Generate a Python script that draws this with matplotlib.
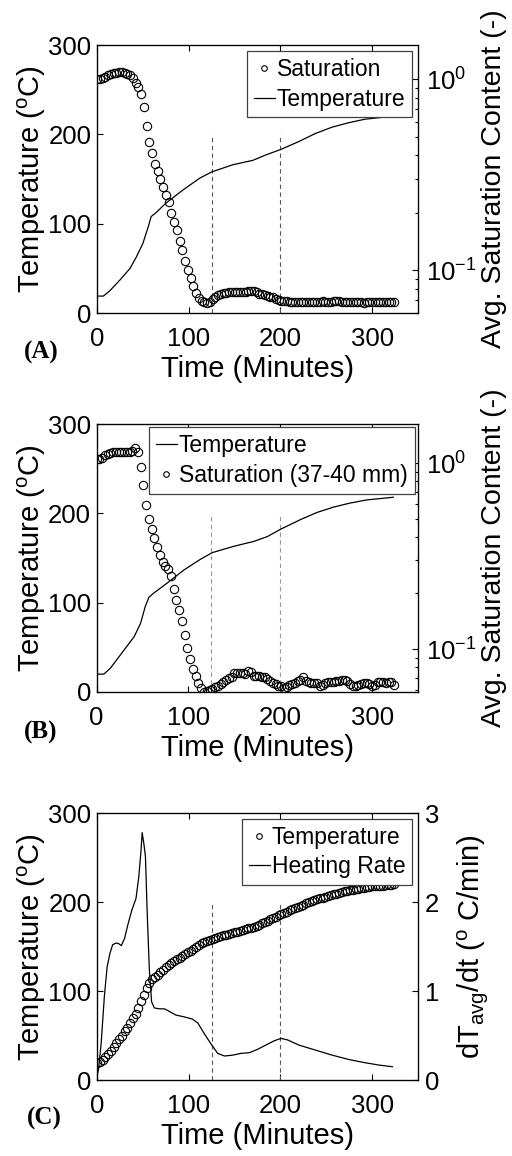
import numpy as np
import matplotlib.pyplot as plt
from matplotlib.ticker import NullFormatter

plt.rcParams['font.family'] = ['Liberation Sans', 'DejaVu Sans']
plt.rcParams['mathtext.fontset'] = 'custom'
plt.rcParams['mathtext.rm'] = 'Liberation Sans'
plt.rcParams['mathtext.it'] = 'Liberation Sans:italic'
plt.rcParams['mathtext.bf'] = 'Liberation Sans:bold'
plt.rcParams['axes.unicode_minus'] = False

# circle series are sampled every 3 minutes (0 .. 324 min)
time = np.arange(0, 325, 3)

# (A) average saturation content (-)
sat_a = [1.00, 1.00, 1.01, 1.03, 1.05, 1.06, 1.08, 1.08, 1.09, 1.09,
         1.08, 1.07, 1.05, 1.01, 0.96, 0.91, 0.84, 0.72, 0.57, 0.47,
         0.41, 0.36, 0.33, 0.30, 0.272, 0.248, 0.227, 0.200, 0.179, 0.162,
         0.143, 0.127, 0.112, 0.100, 0.0912, 0.0826, 0.0762, 0.0713, 0.0689, 0.0678,
         0.0675, 0.0684, 0.0708, 0.0726, 0.0740, 0.0752, 0.0759, 0.0764, 0.0766, 0.0767,
         0.0769, 0.0769, 0.0771, 0.0773, 0.0774, 0.0776, 0.0778, 0.0776, 0.0766, 0.0755,
         0.0748, 0.0741, 0.0735, 0.0728, 0.0721, 0.0708, 0.0698, 0.0692, 0.0689, 0.0688,
         0.0686, 0.0685, 0.0684, 0.0685, 0.0684, 0.0683, 0.0684, 0.0685, 0.0684, 0.0683,
         0.0684, 0.0686, 0.0687, 0.0686, 0.0685, 0.0686, 0.0688, 0.0689, 0.0687, 0.0684,
         0.0681, 0.0684, 0.0686, 0.0680, 0.0683, 0.0678, 0.0682, 0.0676, 0.0683, 0.0680,
         0.0686, 0.0684, 0.0683, 0.0682, 0.0683, 0.0682, 0.0681, 0.0682, 0.0680]

# (A) temperature line
time_temp_a = [0, 7, 14, 25, 36, 43, 50, 56, 59, 65, 75, 94, 112, 125, 148,
               170, 184, 200, 220, 238, 256, 274, 292, 310, 324]
temp_a = [19, 19, 25, 37, 50, 63, 78, 97, 108, 113, 123, 138, 151, 158, 166,
          171, 177, 183, 192, 201, 208, 213, 217, 219, 220]

# (B) saturation content at 37-40 mm (-)
sat_b = [1.05, 1.05, 1.07, 1.10, 1.12, 1.13, 1.14, 1.15, 1.15, 1.15,
         1.15, 1.15, 1.15, 1.16, 1.20, 1.14, 0.955, 0.759, 0.596, 0.501,
         0.442, 0.395, 0.356, 0.320, 0.295, 0.281, 0.268, 0.248, 0.211, 0.184,
         0.162, 0.141, 0.119, 0.101, 0.0891, 0.0785, 0.0719, 0.0661, 0.0617, 0.0592,
         0.0596, 0.0605, 0.0612, 0.0624, 0.0638, 0.0653, 0.0668, 0.0684, 0.0698, 0.0711,
         0.0745, 0.0748, 0.0748, 0.0745, 0.0735, 0.0759, 0.0750, 0.0721, 0.0716, 0.0714,
         0.0711, 0.0705, 0.0695, 0.0673, 0.0661, 0.0649, 0.0638, 0.0631, 0.0621, 0.0627,
         0.0640, 0.0650, 0.0659, 0.0673, 0.0686, 0.0705, 0.0676, 0.0664, 0.0656, 0.0659,
         0.0661, 0.0638, 0.0646, 0.0656, 0.0664, 0.0670, 0.0670, 0.0671, 0.0676, 0.0681,
         0.0684, 0.0673, 0.0653, 0.0635, 0.0638, 0.0643, 0.0652, 0.0656, 0.0656, 0.0653,
         0.0634, 0.0646, 0.0668, 0.0670, 0.0667, 0.0661, 0.0665, 0.0670, 0.0646]

# (B) temperature line
time_temp_b = [0, 8, 15, 26, 41, 48, 53, 57, 62, 77, 95, 113, 126, 149,
               171, 186, 200, 222, 240, 258, 276, 294, 323]
temp_b = [20, 20, 26.5, 41.5, 62, 77, 95.5, 106, 110.5, 122, 136.5, 148.5, 156, 163,
          168.5, 174, 182, 193, 201, 207, 211.5, 215, 218]

# (C) average temperature (circles)
temp_c = [19.5, 20.5, 22.5, 25.5, 29, 32.5, 37, 42, 46, 50,
          55, 59, 64.5, 69.5, 74.5, 81, 88.5, 96, 103.5, 109.5,
          113, 116, 118.5, 121, 124, 126.5, 129, 131, 133.5, 135.5,
          137.5, 139.5, 141.5, 143.5, 145.5, 147.5, 150, 151.5, 153.5, 155,
          156.5, 157.5, 158.5, 159.5, 160.5, 161.5, 162.5, 163.5, 164, 165,
          166, 166.5, 167.5, 168.5, 169.5, 170.5, 171, 172, 173.5, 174.5,
          176, 177.5, 179, 180.5, 182, 183.5, 185, 186, 187.5, 189,
          190.5, 192, 193.5, 194.5, 196, 197, 198.5, 199.5, 201, 202,
          203, 204, 205, 206, 207, 208, 208.5, 209.5, 210.5, 211,
          212, 212.5, 213, 214, 214.5, 215, 215.5, 216, 216.5, 217,
          217.5, 217.5, 218, 218.5, 218.5, 219, 219.5, 219.5, 220]

# (C) heating rate dT_avg/dt (deg C/min)
time_rate = [0, 1.5, 4.5, 8, 11, 14, 17, 21, 24, 26.5, 30, 34, 38, 42.5, 45.5,
             48, 49.2, 51, 52.8, 54.6, 57, 59.5, 62.5, 68, 73.5, 79, 86, 95,
             104, 110, 117, 124, 131.5, 139, 148, 157, 166, 175, 184, 193,
             200.5, 208, 220, 238, 256, 274, 292, 307, 322]
heat_rate = [0.05, 0.11, 0.41, 0.94, 1.27, 1.42, 1.52, 1.54, 1.53, 1.51, 1.59, 1.76,
             1.91, 2.04, 2.28, 2.58, 2.78, 2.66, 2.51, 1.91, 1.25, 0.88, 0.81, 0.80,
             0.80, 0.77, 0.73, 0.71, 0.685, 0.64, 0.52, 0.41, 0.30, 0.27, 0.28,
             0.30, 0.307, 0.345, 0.393, 0.44, 0.468, 0.45, 0.393, 0.337, 0.281,
             0.232, 0.195, 0.169, 0.15]

# dashed markers of the drying stages
stage_times = [125, 200]
stage_top = 200

FS = 18.5      # tick labels
FL = 21        # axis labels
FLEG = 16.5    # legend
circ = dict(ls='none', marker='o', mfc='none', mec='k', ms=6, mew=0.8)


def setup_left(ax, stage_color):
    ax.set_xlim(0, 350)
    ax.set_ylim(0, 300)
    ax.set_xticks([0, 100, 200, 300])
    ax.set_yticks([0, 100, 200, 300])
    ax.tick_params(direction='in', top=True, right=True, labelsize=FS,
                   length=4, width=0.8)
    ax.tick_params(axis='x', pad=10)
    ax.tick_params(axis='y', pad=4)
    for s in ax.spines.values():
        s.set_linewidth(0.9)
    ax.set_xlabel('Time (Minutes)', fontsize=FL, labelpad=3)
    ax.set_ylabel(r'Temperature ($^{\mathdefault{o}}$C)', fontsize=FL, labelpad=0)
    ax.vlines(stage_times, 0, stage_top, colors=stage_color, linestyles=(0, (4, 3)),
              linewidth=0.8)


def setup_log_right(ax2, lims):
    ax2.set_yscale('log')
    ax2.set_ylim(*lims)
    ax2.yaxis.set_minor_formatter(NullFormatter())
    ax2.tick_params(which='both', direction='in', labelsize=FS, pad=6, width=0.8)
    ax2.tick_params(which='major', length=4)
    ax2.tick_params(which='minor', length=2.5)
    ax2.set_ylabel('Avg. Saturation Content (-)', fontsize=FL - 0.5, labelpad=3)


def add_legend(ax, handles, labels, pad=0.25):
    leg = ax.legend(handles, labels, loc='upper right', fontsize=FLEG,
                    fancybox=False, framealpha=1, edgecolor='0.25',
                    borderpad=0.3, handlelength=0.9, handletextpad=0.1,
                    labelspacing=0.3, borderaxespad=pad)
    leg.get_frame().set_linewidth(0.9)
    for h in leg.legend_handles:
        h.set_markersize(4)
    return leg


fig = plt.figure(figsize=(5.12, 11.56), dpi=100)

# ---- (A)
ax = fig.add_axes([0.1895, 0.7292, 0.627, 0.2318])
setup_left(ax, '0.35')
ln, = ax.plot(time_temp_a, temp_a, 'k-', lw=0.9)
ax2 = ax.twinx()
setup_log_right(ax2, (0.0597, 1.51))
pts, = ax2.plot(time, sat_a, **circ)
add_legend(ax2, [pts, ln], ['Saturation', 'Temperature'])
fig.text(41 / 512, 1 - 352 / 1156, '(A)', family='Liberation Serif',
         weight='bold', fontsize=18, ha='center', va='center')

# ---- (B)
ax = fig.add_axes([0.1885, 0.4014, 0.628, 0.2318])
setup_left(ax, '0.6')
ln, = ax.plot(time_temp_b, temp_b, 'k-', lw=0.9)
ax2 = ax.twinx()
setup_log_right(ax2, (0.0589, 1.62))
pts, = ax2.plot(time, sat_b, **circ)
add_legend(ax2, [ln, pts], ['Temperature', 'Saturation (37-40 mm)'], pad=0.15)
fig.text(41 / 512, 1 - 732 / 1156, '(B)', family='Liberation Serif',
         weight='bold', fontsize=18, ha='center', va='center')

# ---- (C)
ax = fig.add_axes([0.1895, 0.0657, 0.627, 0.231])
setup_left(ax, '0.35')
pts, = ax.plot(time, temp_c, **circ)
ax2 = ax.twinx()
ln, = ax2.plot(time_rate, heat_rate, 'k-', lw=0.9)
ax2.set_ylim(0, 3)
ax2.set_yticks([0, 1, 2, 3])
ax2.tick_params(direction='in', labelsize=FS, pad=5, length=4, width=0.8)
ax2.set_ylabel(r'dT$_{\mathdefault{avg}}$/dt ($^{\mathdefault{o}}$ C/min)',
               fontsize=FL, labelpad=12)
add_legend(ax2, [pts, ln], ['Temperature', 'Heating Rate'])
fig.text(44 / 512, 1 - 1118 / 1156, '(C)', family='Liberation Serif',
         weight='bold', fontsize=18, ha='center', va='center')

fig.savefig('out.png', dpi=100)
